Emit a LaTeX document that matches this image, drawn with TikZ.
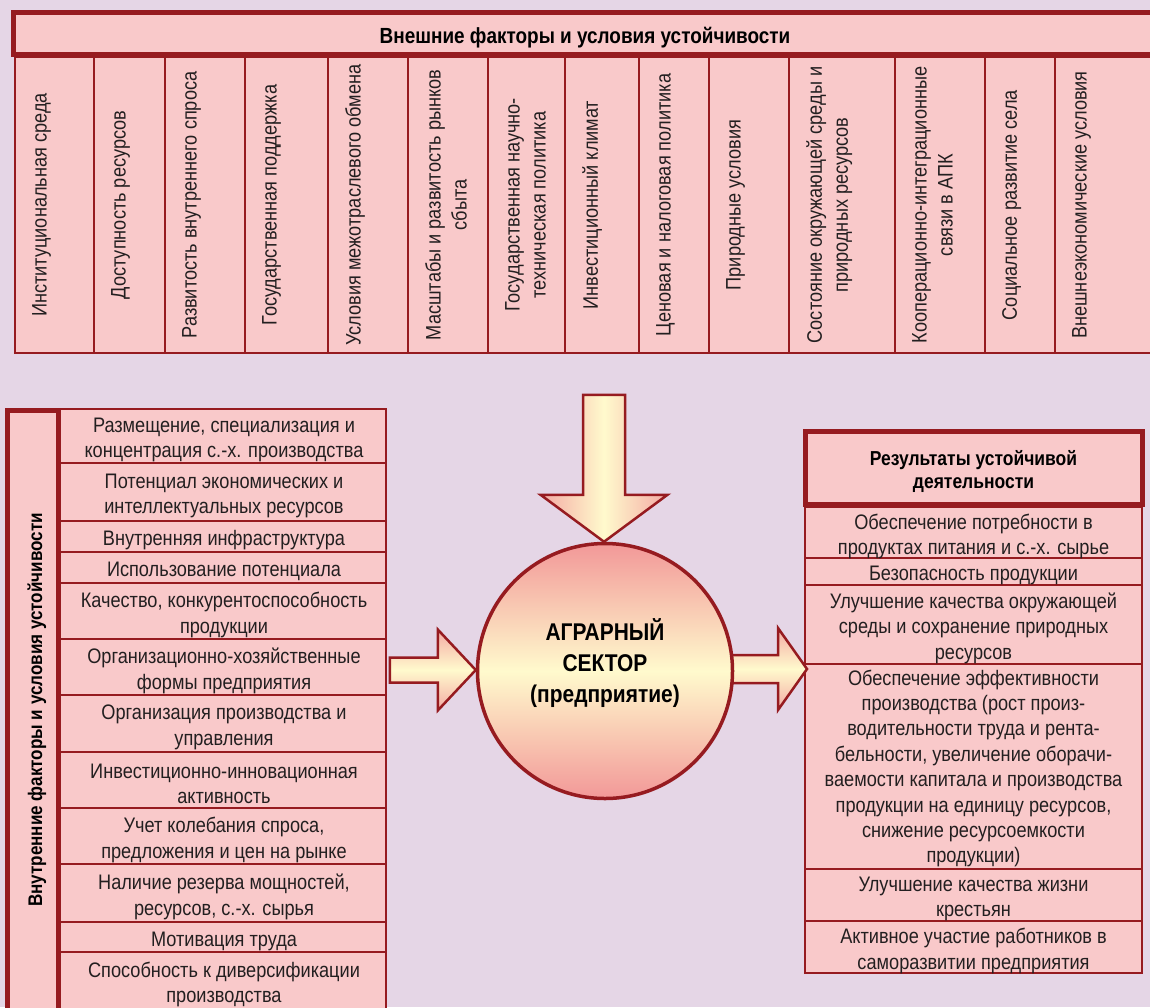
\documentclass[tikz,border=0pt]{standalone}
\usepackage{fontspec}
\setmainfont[FakeStretch=0.865]{Liberation Sans}
\usetikzlibrary{calc}
\definecolor{bgc}{RGB}{229,214,230}
\definecolor{pinkf}{RGB}{249,201,202}
\definecolor{dred}{RGB}{150,27,32}
\definecolor{yelc}{RGB}{255,250,205}
\definecolor{pinkg}{RGB}{242,152,152}
\definecolor{pinka}{RGB}{244,170,164}
\definecolor{txt}{RGB}{35,31,32}
\begin{document}
\begin{tikzpicture}[x=1pt,y=-1pt,
  thickbox/.style={draw=dred, line width=5pt, fill=pinkf},
  thinbox/.style={draw=dred, line width=2pt, fill=pinkf},
  sepline/.style={draw=dred, line width=2pt},
  coltext/.style={rotate=90, anchor=north, inner sep=0pt, align=center, font=\fontsize{21}{26}\selectfont, text=txt},
  itemtext/.style={inner sep=0pt, align=center, font=\fontsize{21}{25.4}\selectfont, text=txt},
  titletext/.style={inner sep=0pt, align=center, font=\bfseries\fontsize{21.9}{24}\selectfont, text=black},
  blockarrow/.style={draw=dred, line width=2.5pt, line join=miter}]
\useasboundingbox (0,0) rectangle (1150,1007);
\clip (0,0) rectangle (1150,1007);
\fill[bgc] (0,0) rectangle (1150,1007);

% ---------- external factors ----------
\draw[thinbox] (15,57) rectangle (1175,353);
\foreach \x in {94,165,245,328,408,488,565,639,709,789,895,985,1055}
  \draw[sepline] (\x,57) -- (\x,353);
\draw[thickbox] (13.5,12.5) rectangle (1175,54.5);
\node[titletext, anchor=base] (exttitle) at (585,43) {Внешние факторы и условия устойчивости};

\node[coltext] (c1) at (32,205) {Институциональная среда};
\node[coltext] (c2) at (111,205) {Доступность ресурсов};
\node[coltext] (c3) at (182,205) {Развитость внутреннего спроса};
\node[coltext] (c4) at (262,205) {Государственная поддержка};
\node[coltext] (c5) at (345,205) {Условия межотраслевого обмена};
\node[coltext] (c6) at (425,205) {Масштабы и развитость рынков\\сбыта};
\node[coltext] (c7) at (505,205) {Государственная научно-\\техническая политика};
\node[coltext] (c8) at (582,205) {Инвестиционный климат};
\node[coltext] (c9) at (656,205) {Ценовая и налоговая политика};
\node[coltext] (c10) at (726,205) {Природные условия};
\node[coltext] (c11) at (806,205) {Состояние окружающей среды и\\природных ресурсов};
\node[coltext] (c12) at (912,205) {Кооперационно-интеграционные\\связи в АПК};
\node[coltext] (c13) at (1002,205) {Социальное развитие села};
\node[coltext] (c14) at (1072,205) {Внешнеэкономические условия};

% ---------- internal factors ----------
\draw[thickbox] (7.5,410) rectangle (58.5,1030);
\node[titletext, font=\bfseries\fontsize{19.7}{24}\selectfont, rotate=90, anchor=base] (inttitle) at (42,710) {Внутренние факторы и условия устойчивости};
\fill[pinkf] (61,409) rectangle (386,1030);
\draw[sepline] (61,409) -- (386,409) -- (386,1030);
\foreach \y in {463,521,552,583,639,695,752,808,864,922,952}
  \draw[sepline] (61,\y) -- (386,\y);

\node[itemtext] (l1) at (224,440) {Размещение, специализация и\\концентрация с.-х. производства};
\node[itemtext] (l2) at (224,496) {Потенциал экономических и\\интеллектуальных ресурсов};
\node[itemtext] (l3) at (224,540.5) {Внутренняя инфраструктура};
\node[itemtext] (l4) at (224,571.5) {Использование потенциала};
\node[itemtext] (l5) at (224,615) {Качество, конкурентоспособность\\продукции};
\node[itemtext] (l6) at (224,671) {Организационно-хозяйственные\\формы предприятия};
\node[itemtext] (l7) at (224,727.5) {Организация производства и\\управления};
\node[itemtext] (l8) at (224,784) {Инвестиционно-инновационная\\активность};
\node[itemtext] (l9) at (224,840) {Учет колебания спроса,\\предложения и цен на рынке};
\node[itemtext] (l10) at (224,897) {Наличие резерва мощностей,\\ресурсов, с.-х. сырья};
\node[itemtext] (l11) at (224,941) {Мотивация труда};
\node[itemtext] (l12) at (224,984.5) {Способность к диверсификации\\производства};

% ---------- results ----------
\draw[thinbox] (805,507) rectangle (1142,973);
\foreach \y in {558,585,664,869,921}
  \draw[sepline] (805,\y) -- (1142,\y);
\draw[thickbox] (805.5,431) rectangle (1142,504.5);
\node[titletext, font=\bfseries\fontsize{20.2}{23}\selectfont] (restitle) at (973.5,471) {Результаты устойчивой\\деятельности};

\node[itemtext] (r1) at (973.5,536.5) {Обеспечение потребности в\\продуктах питания и с.-х. сырье};
\node[itemtext] (r2) at (973.5,575.5) {Безопасность продукции};
\node[itemtext] (r3) at (973.5,628) {Улучшение качества окружающей\\среды и сохранение природных\\ресурсов};
\node[itemtext] (r4) at (973.5,768.5) {Обеспечение эффективности\\производства (рост произ-\\водительности труда и рента-\\бельности, увеличение оборачи-\\ваемости капитала и производства\\продукции на единицу ресурсов,\\снижение ресурсоемкости\\продукции)};
\node[itemtext] (r5) at (973.5,899) {Улучшение качества жизни\\крестьян};
\node[itemtext] (r6) at (973.5,951) {Активное участие работников в\\саморазвитии предприятия};

% ---------- centre ----------
\coordinate (sc) at (605,671);
\coordinate (tipN) at ($(sc)+(-1,-129.25)$);
\coordinate (tipW) at ($(sc)+(-129.25,-1)$);
\coordinate (tailE) at ($(sc)+(120,-2)$);

\path[blockarrow, left color=pinka, right color=pinka, middle color=yelc]
  ($(tipN)+(-21,-147)$) -- ($(tipN)+(21,-147)$) -- ($(tipN)+(21,-47)$) -- ($(tipN)+(63.5,-47)$)
  -- (tipN) -- ($(tipN)+(-63.5,-47)$) -- ($(tipN)+(-21,-47)$) -- cycle;
\path[blockarrow, top color=pinka, bottom color=pinka, middle color=yelc]
  ($(tipW)+(-86,-12.5)$) -- ($(tipW)+(-38,-12.5)$) -- ($(tipW)+(-38,-40.5)$) -- (tipW)
  -- ($(tipW)+(-38,40.5)$) -- ($(tipW)+(-38,12.5)$) -- ($(tipW)+(-86,12.5)$) -- cycle;
\path[blockarrow, top color=pinka, bottom color=pinka, middle color=yelc]
  ($(tailE)+(0,-14)$) -- ($(tailE)+(53,-14)$) -- ($(tailE)+(53,-41)$) -- ($(tailE)+(82,0)$)
  -- ($(tailE)+(53,41)$) -- ($(tailE)+(53,14)$) -- ($(tailE)+(0,14)$) -- cycle;

\node[circle, draw=dred, line width=3.5pt, minimum size=255pt, inner sep=0pt,
      top color=pinkg, bottom color=pinkg, middle color=yelc] (sector) at (sc) {};
\node[inner sep=0pt, align=center, font=\bfseries\fontsize{24.2}{31}\selectfont, text=black] (sectortext) at (605,663) {АГРАРНЫЙ\\СЕКТОР\\(предприятие)};
\end{tikzpicture}
\end{document}
